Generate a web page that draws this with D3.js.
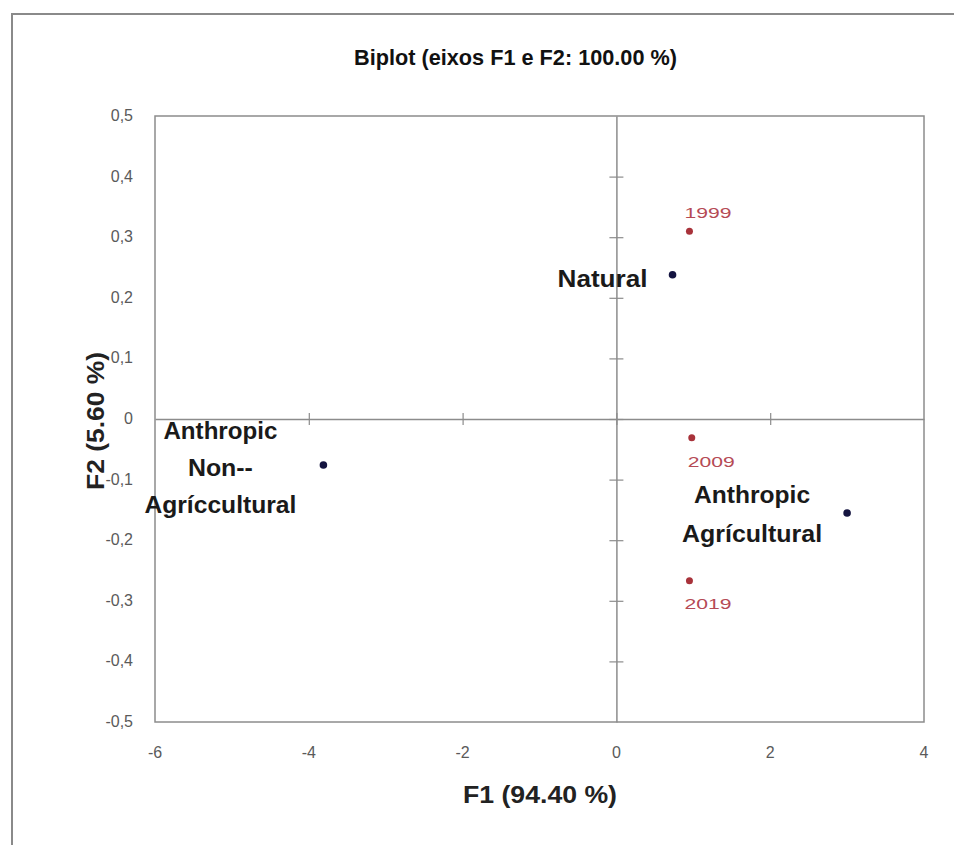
<!DOCTYPE html>
<html><head><meta charset="utf-8">
<script src="https://cdn.jsdelivr.net/npm/d3@7"></script>
<style>
body{margin:0;background:#fff;}
svg{display:block;}
text{font-family:"Liberation Sans","DejaVu Sans",sans-serif;}
</style></head>
<body>
<svg id="c" width="954" height="845"></svg>
<script>
const varNames = ["Natural", "Anthropic Agrícultural", "Anthropic Non-- Agríccultural"];
const varF1 = [0.73, 3.00, -3.81];
const varF2 = [0.238, -0.155, -0.076];
const yearNames = ["1999", "2009", "2019"];
const yearF1 = [0.95, 0.98, 0.95];
const yearF2 = [0.31, -0.031, -0.267];
const xTicks = [-6, -4, -2, 0, 2, 4];
const yTicks = [-0.5, -0.4, -0.3, -0.2, -0.1, 0, 0.1, 0.2, 0.3, 0.4, 0.5];
const title = "Biplot (eixos F1 e F2: 100.00 %)";
const xTitle = "F1 (94.40 %)";
const yTitle = "F2 (5.60 %)";

const svg = d3.select("#c");
const L = 155, R = 924, T = 116, B = 722;
const x = d3.scaleLinear().domain([-6, 4]).range([L, R]);
const y = d3.scaleLinear().domain([-0.5, 0.5]).range([B, T]);

// outer frame
svg.append("path").attr("d", `M12,845 L12,14 L954,14`).attr("fill", "none")
  .attr("stroke", "#8a8a8a").attr("stroke-width", 2);

// title
svg.append("text").attr("x", 354).attr("y", 65)
  .attr("font-size", 22).attr("font-weight", "bold").attr("fill", "#111")
  .attr("textLength", 323).attr("lengthAdjust", "spacingAndGlyphs").text(title);

// plot border
svg.append("rect").attr("x", L).attr("y", T).attr("width", R - L).attr("height", B - T)
  .attr("fill", "none").attr("stroke", "#8c8c8c").attr("stroke-width", 1.5);

// zero axes with crossing ticks
const gx = svg.append("g").attr("transform", `translate(0,${y(0)})`)
  .call(d3.axisBottom(x).tickValues(xTicks.filter(d => d > -6 && d < 4)).tickSize(0).tickFormat(""));
gx.select(".domain").attr("stroke", "#8c8c8c").attr("stroke-width", 1.5);
gx.selectAll(".tick line").attr("y1", -6).attr("y2", 6).attr("stroke", "#8c8c8c").attr("stroke-width", 1.2);
const gy = svg.append("g").attr("transform", `translate(${x(0)},0)`)
  .call(d3.axisLeft(y).tickValues(yTicks.filter(d => d > -0.5 && d < 0.5)).tickSize(0).tickFormat(""));
gy.select(".domain").attr("stroke", "#8c8c8c").attr("stroke-width", 1.5);
gy.selectAll(".tick line").attr("x1", -7).attr("x2", 7).attr("stroke", "#8c8c8c").attr("stroke-width", 1.2);

// tick labels
const fmtY = d => d === 0 ? "0" : d3.format(".1f")(d).replace("−", "-").replace(".", ",");
svg.append("g").selectAll("text").data(yTicks).join("text")
  .attr("x", 133).attr("y", d => y(d) + 5).attr("text-anchor", "end")
  .attr("font-size", 16).attr("fill", "#5a5a5a")
  .text(fmtY);
svg.append("g").selectAll("text").data(xTicks).join("text")
  .attr("x", d => x(d)).attr("y", 758).attr("text-anchor", "middle")
  .attr("font-size", 16).attr("fill", "#5a5a5a").text(d => String(d).replace("−", "-"));

// axis titles
svg.append("text").attr("x", 463).attr("y", 803)
  .attr("font-size", 23).attr("font-weight", "bold").attr("fill", "#222")
  .attr("textLength", 154).attr("lengthAdjust", "spacingAndGlyphs").text(xTitle);
svg.append("text").attr("transform", `translate(104,490) rotate(-90)`)
  .attr("font-size", 23).attr("font-weight", "bold").attr("fill", "#222")
  .attr("textLength", 138).attr("lengthAdjust", "spacingAndGlyphs").text(yTitle);

// year points
svg.append("g").selectAll("circle").data(yearNames).join("circle")
  .attr("cx", (d, i) => x(yearF1[i])).attr("cy", (d, i) => y(yearF2[i])).attr("r", 3.5)
  .attr("fill", "#a8323a");
const yearLab = [[-5, -13], [-4, 29], [-5, 28]];
svg.append("g").selectAll("text").data(yearNames).join("text")
  .attr("x", (d, i) => x(yearF1[i]) + yearLab[i][0]).attr("y", (d, i) => y(yearF2[i]) + yearLab[i][1])
  .attr("font-size", 15).attr("fill", "#b54a55")
  .attr("textLength", 47).attr("lengthAdjust", "spacingAndGlyphs").text(d => d);

// variable points
svg.append("g").selectAll("circle").data(varNames).join("circle")
  .attr("cx", (d, i) => x(varF1[i])).attr("cy", (d, i) => y(varF2[i])).attr("r", 3.8)
  .attr("fill", "#141440");
const varLab = [
  {lines: ["Natural"], lens: [90], dx: -25, dy: 12, gap: 0, anchor: "end"},
  {lines: ["Anthropic", "Agrícultural"], lens: [116, 140], dx: -95, dy: -10, gap: 39, anchor: "middle"},
  {lines: ["Anthropic", "Non--", "Agríccultural"], lens: [114, 65, 152], dx: -103, dy: -26, gap: 37, anchor: "middle"}
];
varNames.forEach((n, i) => {
  const cfg = varLab[i];
  cfg.lines.forEach((ln, k) => {
    svg.append("text").attr("text-anchor", cfg.anchor)
      .attr("x", x(varF1[i]) + cfg.dx).attr("y", y(varF2[i]) + cfg.dy + k * cfg.gap)
      .attr("font-size", 24).attr("font-weight", "bold").attr("fill", "#1a1a1a")
      .attr("textLength", cfg.lens[k]).attr("lengthAdjust", "spacingAndGlyphs")
      .text(ln);
  });
});
</script>
</body></html>
